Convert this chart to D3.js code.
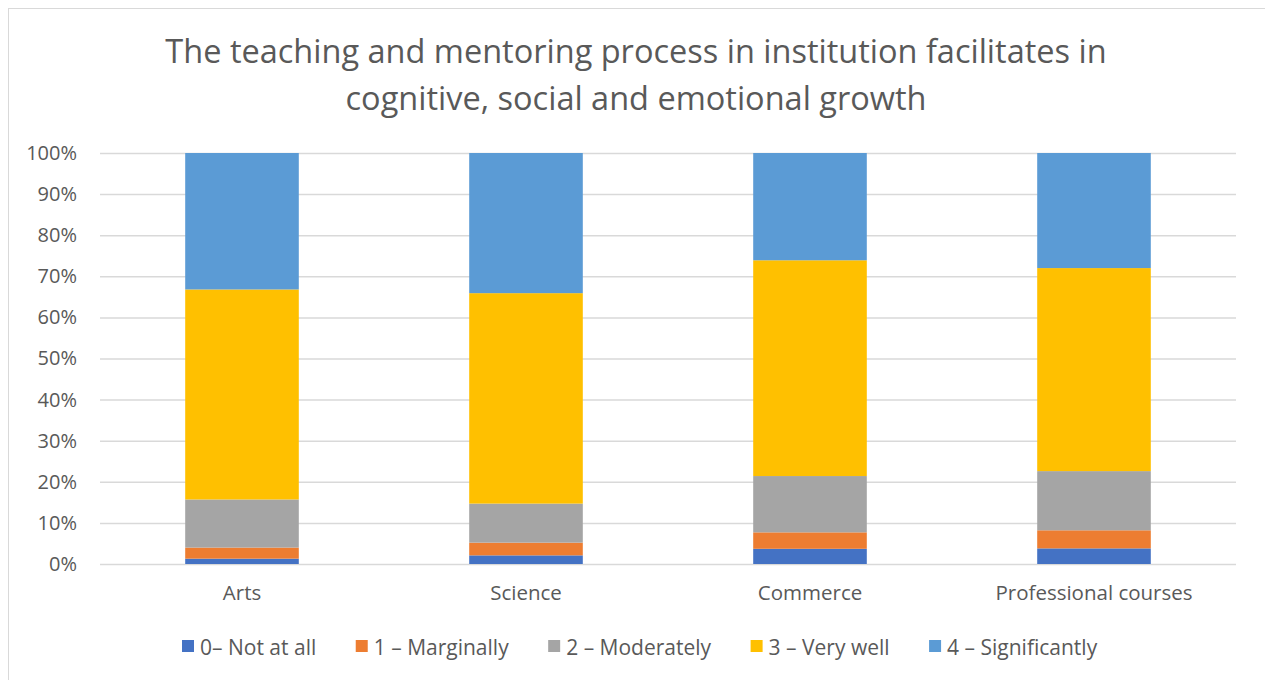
<html>
<head>
<script src="https://d3js.org/d3.v7.min.js"></script>
<style>
  body { margin: 0; background: #fff; }
  text { font-family: "Open Sans", "Liberation Sans", sans-serif; fill: #595959; }
  .axis path { display: none; }
  .axis line { stroke: #d9d9d9; }
</style>
</head>
<body>
<div id="chart"></div>
<script>
// chart data (percent of respondents per stream)
const categories = ['Arts', 'Science', 'Commerce', 'Professional courses'];
const seriesNames = ['0– Not at all', '1 – Marginally', '2 – Moderately', '3 – Very well', '4 – Significantly'];
const notAtAll = [1.3, 2.1, 3.7, 3.8];
const marginally = [2.7, 3.1, 4.0, 4.4];
const moderately = [11.7, 9.5, 13.7, 14.4];
const veryWell = [51.1, 51.2, 52.5, 49.4];
const significantly = [33.2, 34.1, 26.1, 28.0];
const yTicks = [0, 10, 20, 30, 40, 50, 60, 70, 80, 90, 100];
const colors = ['#4472c4', '#ed7d31', '#a5a5a5', '#ffc000', '#5b9bd5'];

const W = 1265, H = 680;
const margin = { top: 153, right: 29, bottom: 116, left: 100 };
const width = W - margin.left - margin.right;
const height = H - margin.top - margin.bottom;

const svg = d3.select('#chart').append('svg')
    .attr('width', W)
    .attr('height', H);

// outer chart frame
svg.append('rect')
    .attr('x', 8.5).attr('y', 8.5)
    .attr('width', W - 6).attr('height', H)
    .attr('fill', 'none').attr('stroke', '#d9d9d9');

// title
const title = svg.append('text')
    .attr('text-anchor', 'middle')
    .style('font-size', '32.5px');
title.append('tspan').attr('x', 636).attr('y', 63)
    .text('The teaching and mentoring process in institution facilitates in');
title.append('tspan').attr('x', 636).attr('y', 110)
    .text('cognitive, social and emotional growth');

const g = svg.append('g')
    .attr('transform', `translate(${margin.left},${margin.top})`);

const rows = categories.map((c, i) => ({
    cat: c,
    s0: notAtAll[i], s1: marginally[i], s2: moderately[i], s3: veryWell[i], s4: significantly[i]
}));
const keys = ['s0', 's1', 's2', 's3', 's4'];
const stacked = d3.stack().keys(keys).offset(d3.stackOffsetExpand)(rows);

const x = d3.scaleBand().domain(categories).range([0, width]).paddingInner(0.6).paddingOuter(0.3);
const y = d3.scaleLinear().domain([0, 1]).range([height, 0]);

// gridlines + y axis
g.append('g')
    .attr('class', 'axis')
    .call(d3.axisLeft(y).tickValues(yTicks.map(t => t / 100)).tickSize(-width).tickFormat(d3.format('.0%')))
    .call(a => a.selectAll('line').attr('stroke-width', 1.5))
    .call(a => a.selectAll('text')
        .attr('x', -23)
        .style('font-size', '20px')
        .style('fill', '#595959'));

// bars
g.selectAll('.layer')
    .data(stacked)
    .enter().append('g')
    .attr('fill', (d, i) => colors[i])
    .selectAll('rect')
    .data(d => d)
    .enter().append('rect')
    .attr('x', d => x(d.data.cat))
    .attr('y', d => y(d[1]))
    .attr('height', d => y(d[0]) - y(d[1]))
    .attr('width', x.bandwidth());

// x axis labels
g.append('g')
    .attr('class', 'axis')
    .attr('transform', `translate(0,${height})`)
    .call(d3.axisBottom(x).tickSize(0).tickPadding(21))
    .call(a => a.selectAll('text')
        .style('font-size', '20.5px')
        .style('fill', '#595959'));

// legend
const legend = svg.append('g').attr('transform', 'translate(182,647)');
let lx = 0;
seriesNames.forEach((name, i) => {
    const item = legend.append('g').attr('transform', `translate(${lx},0)`);
    item.append('rect')
        .attr('x', 0).attr('y', -7)
        .attr('width', 12).attr('height', 12)
        .attr('fill', colors[i]);
    const t = item.append('text')
        .attr('x', 18).attr('y', 7.5)
        .style('font-size', '21px')
        .text(name);
    lx += 18 + t.node().getComputedTextLength() + 39.5;
});
</script>
</body>
</html>
